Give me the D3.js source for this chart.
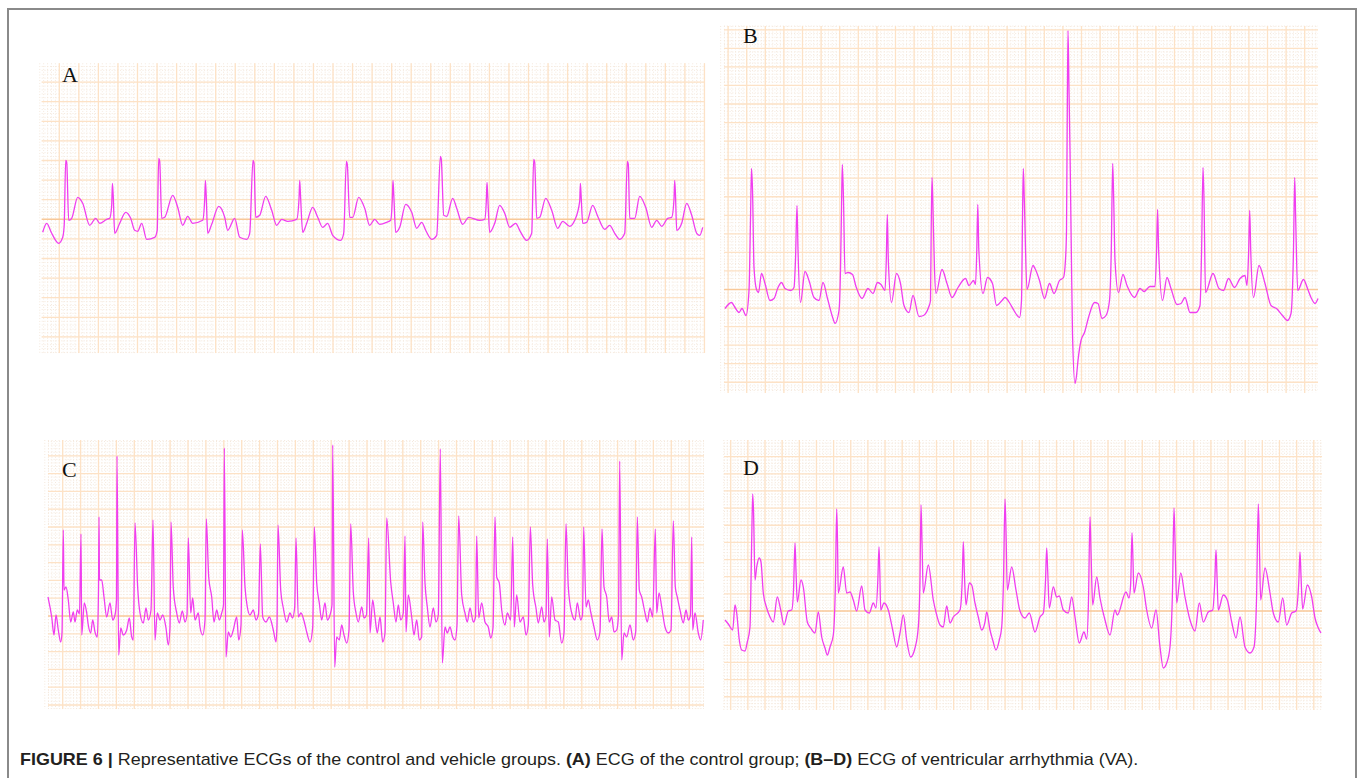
<!DOCTYPE html>
<html><head><meta charset="utf-8">
<script src="https://cdn.jsdelivr.net/npm/d3@7"></script>
<style>body{margin:0;background:#fff}svg{display:block}</style>
</head><body>
<svg id="fig" width="1362" height="778"></svg>
<script>
// ---- DATA: samples (1 sample per trace step) and amplitude (counts above baseline) ----
const panelLabels = ["A", "B", "C", "D"];
const ecgA = [[1,-13],[5,-4],[10,-14],[17,-24],[21,-18],[22.5,-6],[24,59],[25,57],[27,-1],[30,1],[36,22],[41,16],[48,-6],[54,1],[58,-4],[65,0],[68,1],[70,14],[70.7,36],[71.5,24],[73,-14],[78,-4],[84,7],[89,1],[93,-11],[96,-12],[100,-4],[105,-20],[113,-18],[115.5,-11],[117,61],[118,58],[120,1],[123,2],[131,24],[136,12],[141,-6],[146,3],[151,-4],[161,-1],[163,20],[163.7,39],[164.5,24],[166,-14],[170,-5],[177,13],[183,2],[186,-11],[193,1],[198,-18],[205,-20],[208,-14],[211.3,59],[212.3,56],[214,2],[218,4],[224,23],[230,9],[235,-6],[240,0],[246,-2],[255,0],[257.3,20],[258,39],[258.8,24],[261,-13],[265,-4],[271,12],[276,2],[281,-8],[286,-4],[291,-16],[299,-21],[302,-14],[304.7,58],[305.6,55],[308,2],[311,2],[317,22],[323,11],[328,-6],[333,0],[338,-5],[345,-3],[349,-1],[350.6,20],[351.3,39],[352.1,24],[354,-13],[358,-8],[364,15],[370,7],[375,-9],[380,-3],[384,-11],[390,-20],[395,-16],[398.7,63],[399.6,60],[402,4],[405,3],[411,21],[415,11],[421,-5],[427,2],[438,-1],[443,0],[444.6,18],[445.3,37],[446.1,22],[448,-13],[453,-4],[458,14],[463,6],[468,-8],[474,-4],[478,-11],[485,-21],[490,-14],[492,60],[493,57],[495,1],[498,2],[504,21],[510,9],[516,-9],[521,-2],[528,-7],[533,-1],[538,18],[538.7,36],[539.5,22],[541,-4],[545,-3],[551,14],[556,3],[563,-10],[568,-6],[573,-14],[578,-20],[583,-14],[585.7,58],[586.6,55],[588,1],[593,1],[598,23],[604,12],[610,-8],[615,-1],[620,-7],[626,1],[630,2],[632.3,20],[633,39],[633.8,24],[635,-11],[640,-4],[645,16],[650,4],[655,-14],[658,-16],[661,-8]];
const ecgB = [[1,-19],[7.5,-13],[11,-18],[15,-23],[18,-19],[22,-26],[25,-1],[26.5,70],[27.5,121],[28.5,100],[30,22],[32.5,0],[34.5,-3],[37.5,16],[41,6],[46,-11],[50,-9],[54,2],[57.5,7],[61,1],[67,-1],[70,2],[71.5,30],[73,84],[74,40],[76.5,-13],[81,18],[85,9],[90,-8],[95,-11],[99,7],[103.5,-9],[109,-29],[111,-34],[115,-21],[116.5,20],[117.5,80],[118.3,125],[119.5,90],[121,16],[124,17],[128.5,15],[132,3],[138,-9],[144,1],[149,-4],[153.5,7],[157,5],[161,-1],[162.3,30],[163.3,75],[164.3,30],[167.5,-13],[172.5,16],[176.5,6],[180,-16],[185,-23],[189,-6],[195,-27],[199.5,-26],[204.5,-18],[206.5,-11],[207.2,60],[208,112],[209,80],[210.5,20],[212,-4],[218,20],[223,6],[228,-8],[234,2],[241.5,11],[245,4],[249.5,9],[251.5,5],[252.8,40],[253.8,85],[254.8,40],[259,-4],[263.5,12],[268.5,6],[272.5,-16],[278,-11],[281,-8],[286,-14],[290,-21],[295.5,-28],[297.5,-11],[298.5,70],[299.3,121],[300.3,90],[303,0],[309,24],[311,21],[315.5,9],[320.5,-9],[325.5,6],[330,-4],[335.5,9],[339.5,12],[341.5,30],[342.5,59],[343.3,180],[344,259],[345,200],[346,139],[347.3,40],[348.5,-44],[351,-94],[352.3,-88],[354,-71],[357,-51],[360.5,-43],[364.5,-28],[370.5,-13],[374,-14],[378,-29],[382,-26],[385.5,-11],[387.3,40],[388.7,126],[389.7,90],[391,29],[394.5,-3],[399,15],[403,4],[410.5,-8],[416,1],[420,-2],[426,3],[431,3],[432.6,40],[433.6,80],[434.6,40],[438.5,-11],[443,12],[447,1],[453,-15],[457,-14],[461,-8],[466,-23],[472,-23],[476,-16],[477.6,40],[479,122],[480,90],[481.5,-3],[489,16],[495,1],[499.5,-1],[504.5,11],[510.5,2],[516,11],[521,14],[523,4],[524.7,40],[525.7,79],[526.7,40],[529.5,-8],[535,24],[541,6],[547,-16],[552.5,-19],[558.5,-26],[563.5,-31],[567,-24],[569.5,40],[570.7,112],[571.7,70],[573.7,-1],[579.5,10],[583.5,1],[587,-8],[591,-14],[594,-9]];
const ecgC = [[0,19],[3.7,-1],[6,-19],[8,1],[10.3,-14],[12.7,-26],[14,-17],[15.3,86],[16,26],[18,29],[20.3,16],[22.7,-6],[25.3,4],[27,-6],[29.3,6],[31.5,2],[33,82],[33.7,-19],[36.3,13],[38.7,3],[40.3,-9],[42.7,-17],[44.7,-4],[47,-16],[49.3,-21],[50.5,26],[51,99],[51.5,36],[53.7,36],[56,19],[58.7,-1],[62,13],[64.7,-4],[67,1],[68.5,16],[69,160],[70.7,-39],[72.7,-12],[75.3,-19],[78.7,-14],[81.3,-2],[83.7,-21],[85.3,-24],[87,93],[89.7,28],[92,3],[95.3,-7],[98,8],[100.3,-4],[103,6],[105,96],[107,-24],[109.3,3],[112,-4],[114.7,1],[118,-12],[120.3,-29],[122,-11],[123,94],[125.3,28],[128.7,3],[131.3,-7],[134.3,5],[137,-6],[139,1],[140.3,78],[142.7,3],[144.7,18],[147,-4],[150.3,3],[152,-11],[154.7,-19],[157,-4],[158.3,97],[160.7,39],[163.7,19],[166,-6],[168.7,6],[171.3,-4],[173.7,3],[175.5,11],[176.3,168],[178,-41],[180.3,-16],[182.7,-21],[185.3,-14],[188.7,-1],[190.7,-24],[193,-9],[194.3,86],[197,29],[199.3,9],[202,1],[205.3,6],[208,-4],[210.5,2],[212.3,72],[214.7,-1],[218,-6],[221.3,-1],[225.3,-14],[228,-26],[229,-9],[230,91],[232.7,26],[235.3,8],[238.7,-6],[242,3],[244.5,-2],[246.7,9],[248,78],[250.3,-1],[253,3],[256.3,-6],[258.7,-16],[262,-26],[264.7,-11],[266.3,89],[268.7,33],[271.3,13],[273.7,-4],[277,13],[279.3,-4],[282,1],[284,11],[284.7,171],[286.7,-51],[288.7,-21],[291.3,-24],[293.7,-9],[296,-19],[298.7,-27],[301,-14],[302.7,92],[305.3,24],[308,3],[310.3,-6],[313.7,9],[316,-2],[318.5,1],[320.7,78],[322,-17],[324.7,16],[327,-1],[329.3,-17],[332,-1],[334.7,-26],[337,-17],[338.7,98],[342.7,34],[345.3,13],[348,-6],[350.3,11],[352.7,-4],[355.3,3],[357,80],[358,-16],[360.3,21],[363.7,-1],[366,-19],[368.7,-4],[371.3,-24],[373.7,-21],[374.7,94],[377,33],[379.3,9],[382,-11],[385.3,8],[388,-6],[390.3,1],[392.3,167],[394.3,-47],[397,-11],[399.3,-17],[402,-11],[404.7,-21],[407,-24],[409,-9],[410.7,100],[413.7,21],[417,3],[419.3,-6],[422,8],[425.3,-6],[427.5,-1],[428.7,80],[430.7,-2],[433.7,13],[437,-6],[440.3,-11],[442.7,-22],[445,-12],[447,99],[448.7,39],[451.3,33],[453.7,6],[457,-9],[459.3,3],[462.7,-4],[464.7,79],[466.3,-11],[468.7,21],[472,-6],[475.3,-1],[478,-19],[480.3,-9],[482.3,89],[484.7,31],[488,8],[490.3,-7],[493.7,9],[496,-6],[498,0],[499.3,77],[501.3,-21],[503.7,19],[507,-4],[510.3,-6],[513.7,-27],[516,-17],[518,92],[520.3,29],[523.7,3],[527,-4],[529.3,13],[532.7,-4],[534.5,1],[535.7,89],[538,9],[540.3,16],[542.7,4],[546,-11],[549.3,-24],[552,-16],[554,87],[556,29],[558.7,19],[561.3,-6],[563.7,-1],[566,-16],[568.7,-14],[570.5,1],[571.7,155],[573.7,-44],[576,-17],[578.7,-21],[582,-9],[585.3,-24],[587.7,-16],[589.3,99],[591.3,26],[593.7,19],[597,3],[599.3,-6],[602,8],[604.7,-1],[607.3,87],[608.7,3],[611,23],[613.7,9],[617,-11],[620.3,-17],[623,-14],[625.3,95],[627.3,29],[629.3,19],[632,6],[635.3,-7],[638,6],[640.3,-4],[642.5,1],[643.7,79],[644.7,-14],[647,3],[650.3,-17],[652.7,-24],[655.3,-4]];
const ecgD = [[1,-9],[4.3,-13],[8.7,-19],[11,6],[12.7,-2],[15.3,-29],[17.7,-39],[21,-40],[23.3,-31],[26,-16],[27.7,71],[28.7,117],[29.5,101],[31,31],[32.7,44],[35.3,53],[37,49],[39.3,18],[42.7,3],[46,-6],[49.3,-11],[53.3,14],[56.7,1],[60,-14],[64.3,0],[67.7,1],[69.5,20],[71,68],[72,40],[73.3,9],[77,31],[79.3,24],[83.3,-11],[86.7,-17],[91,-22],[94.3,-1],[97.7,-26],[101,-37],[103.3,-44],[106,-36],[109.3,-24],[111.5,31],[112.7,102],[113.5,70],[114.3,18],[119.3,44],[122.7,18],[126,19],[129.3,11],[132.7,0],[137.7,25],[141,1],[145.3,-2],[149.3,8],[152,3],[153.8,30],[155,64],[155.8,40],[156.7,1],[160,8],[164.3,1],[168.7,-19],[172.7,-36],[176,-22],[179.3,-4],[182.7,-29],[186.7,-46],[191,-37],[194.3,-16],[196,31],[197,106],[198,70],[199.3,18],[204.3,46],[209.3,11],[212.7,-4],[216,-14],[219.3,-16],[222.7,5],[226,-12],[229.3,-6],[236,1],[238.2,30],[239.3,69],[240.3,40],[242,6],[245.3,28],[247.7,26],[251,8],[254.3,-6],[257.7,-19],[261,-11],[262.7,-1],[266,-19],[268.7,-29],[272,-39],[275.3,-29],[277.7,-16],[279.5,31],[281,112],[282,80],[283.3,21],[287.7,44],[292,21],[296,0],[301,-7],[305.3,-2],[311,-21],[316,-6],[319.3,-2],[321.5,30],[322.7,63],[323.7,40],[325.3,3],[329.3,24],[332.7,14],[335.3,15],[339.3,1],[344.3,-2],[347.7,14],[351,-6],[355.3,-32],[360,-21],[362.7,-28],[364.5,11],[366,94],[367,60],[368.7,6],[372.7,34],[376,13],[381,-9],[386,-24],[391,1],[393.3,-4],[402,19],[405,13],[406.7,28],[408,78],[409,50],[410,18],[414.3,38],[419.3,24],[422.7,1],[427.7,-17],[432,1],[436,-36],[439.3,-57],[442.7,-52],[446,-36],[448.5,21],[450,103],[451,70],[452.7,8],[456.7,38],[461,14],[466,-9],[471,-20],[475.3,8],[479.3,-11],[484.3,-1],[488.7,1],[490.8,30],[492,61],[493,35],[494.3,1],[499.3,16],[503.3,11],[507.7,-11],[512,-27],[516,-6],[521,-36],[526,-42],[530,-36],[532.5,11],[534.3,107],[535.3,70],[536.7,11],[541,43],[546,18],[549.3,-2],[554.3,-11],[558.7,13],[562.7,-14],[567.7,-2],[572,0],[574.8,30],[576,59],[577,35],[578.7,2],[583.3,26],[587.7,14],[591,-7],[594.3,-17],[597,-22]];
const captionParts = [
  {text: "FIGURE 6 |", bold: true},
  {text: " Representative ECGs of the control and vehicle groups. ", bold: false},
  {text: "(A)", bold: true},
  {text: " ECG of the control group; ", bold: false},
  {text: "(B–D)", bold: true},
  {text: " ECG of ventricular arrhythmia (VA).", bold: false}
];

// ---- LAYOUT (positions / sizes / styles) ----
const layout = [
  {left: 41.7, top: 63.3, right: 704.5, bottom: 353, base: 219.3, gx: 59.3, dx: 19.55, dy: 19.6, lx: 62, ly: 82},
  {left: 724, top: 26, right: 1318, bottom: 393, base: 289.5, gx: 746.7, dx: 18.6, dy: 18.55, lx: 743, ly: 43},
  {left: 48, top: 440, right: 704, bottom: 709, base: 616, gx: 62.7, dx: 17.9, dy: 17.8, lx: 62, ly: 477},
  {left: 724, top: 440, right: 1322, bottom: 710, base: 611, gx: 730.7, dx: 17.15, dy: 17.15, lx: 743, ly: 475}
];
const series = [ecgA, ecgB, ecgC, ecgD];

const svg = d3.select("#fig");
svg.append("rect").attr("x", 8).attr("y", 9).attr("width", 1348).attr("height", 820)
  .attr("fill", "none").attr("stroke", "#8a8a8a").attr("stroke-width", 2);

layout.forEach((p, i) => {
  const g = svg.append("g");
  const x = d3.scaleLinear().domain([0, p.right - p.left]).range([p.left, p.right]);
  const y = d3.scaleLinear().domain([-(p.bottom - p.base), p.base - p.top]).range([p.bottom, p.top]);
  // minor grid (dotted)
  const minV = [], minH = [];
  const sx = p.dx / 5, sy = p.dy / 5;
  for (let v = p.gx - Math.ceil((p.gx - p.left) / sx) * sx; v <= p.right; v += sx) minV.push(v);
  for (let h = p.base - Math.floor((p.base - p.top) / sy) * sy; h <= p.bottom; h += sy) minH.push(h);
  g.selectAll(".mv").data(minV).join("line").attr("x1", d => d).attr("x2", d => d)
    .attr("y1", p.top).attr("y2", p.bottom).attr("stroke", "#f4e8dc").attr("stroke-width", 1).attr("stroke-dasharray", "1,1.8");
  g.selectAll(".mh").data(minH).join("line").attr("y1", d => d).attr("y2", d => d)
    .attr("x1", p.left).attr("x2", p.right).attr("stroke", "#f4e8dc").attr("stroke-width", 1).attr("stroke-dasharray", "1,1.8");
  // major grid
  const majV = [], majH = [];
  for (let v = p.gx - Math.floor((p.gx - p.left) / p.dx) * p.dx; v <= p.right + 0.5; v += p.dx) majV.push(v);
  for (let h = p.base - Math.floor((p.base - p.top) / p.dy) * p.dy; h <= p.bottom; h += p.dy) majH.push(h);
  g.selectAll(".MV").data(majV).join("line").attr("x1", d => d).attr("x2", d => d)
    .attr("y1", p.top).attr("y2", p.bottom).attr("stroke", "#fde2c6").attr("stroke-width", 1.3);
  g.selectAll(".MH").data(majH).join("line").attr("y1", d => d).attr("y2", d => d)
    .attr("x1", p.left).attr("x2", p.right)
    .attr("stroke", d => Math.abs(d - p.base) < 0.5 ? "#f8c898" : "#fde2c6")
    .attr("stroke-width", d => Math.abs(d - p.base) < 0.5 ? 1.6 : 1.3);
  // trace
  const line = d3.line().x(d => x(d[0])).y(d => y(d[1])).curve(d3.curveMonotoneX);
  g.append("path").datum(series[i]).attr("d", line).attr("fill", "none")
    .attr("stroke", "#f03ef0").attr("stroke-width", 1.3).attr("stroke-linejoin", "round");
  // label
  g.append("text").attr("x", p.lx).attr("y", p.ly).text(panelLabels[i])
    .attr("font-family", "'Liberation Serif', 'Times New Roman', serif").attr("font-size", 22).attr("fill", "#111");
});

const cap = svg.append("text").attr("x", 20).attr("y", 765)
  .attr("font-family", "'Liberation Sans Narrow', 'Arial Narrow', 'Liberation Sans', Arial, sans-serif")
  .attr("font-size", 16).attr("fill", "#231f20");
captionParts.forEach(c => cap.append("tspan").text(c.text).attr("font-weight", c.bold ? "bold" : "normal").attr("xml:space", "preserve"));
cap.attr("style", "white-space:pre");
const w = cap.node().getComputedTextLength();
const target = 1119;
cap.attr("transform", `translate(20,0) scale(${target / w},1) translate(-20,0)`);
</script>
</body></html>
